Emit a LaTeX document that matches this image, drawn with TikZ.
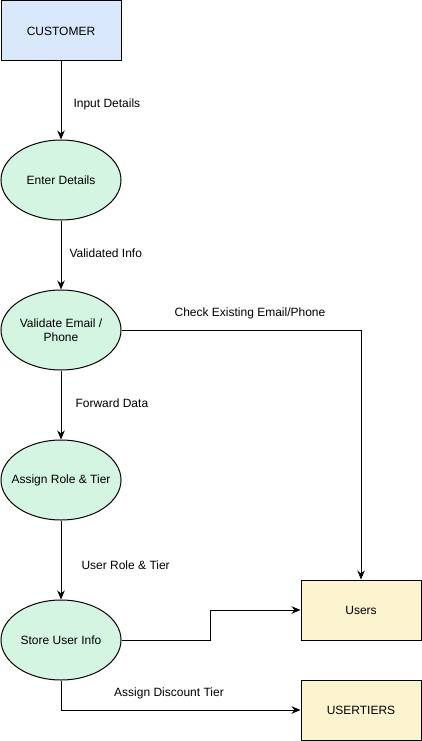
\documentclass[tikz,border=0pt]{standalone}
\usepackage{fontspec}
\setmainfont{Liberation Sans}
\usetikzlibrary{positioning,arrows.meta,shapes.geometric}

\definecolor{custblue}{RGB}{218,232,252}
\definecolor{procgreen}{RGB}{213,245,227}
\definecolor{storeyellow}{RGB}{252,243,207}

\begin{document}
\begin{tikzpicture}[x=1pt,y=-1pt,line width=1pt,
  font=\fontsize{12}{14}\selectfont,
  entity/.style={draw,fill=custblue,minimum width=120pt,minimum height=60pt,inner sep=0pt},
  process/.style={draw,ellipse,fill=procgreen,minimum width=120pt,minimum height=80pt,inner xsep=-14pt,inner ysep=0pt,align=center},
  datastore/.style={draw,fill=storeyellow,minimum width=120pt,minimum height=60pt,inner sep=0pt},
  flow/.style={-{Stealth[length=9pt,width=7.5pt]}},
  lbl/.style={inner sep=0pt}]
  \useasboundingbox (0,0) rectangle (421,741);
  \node[entity] (customer) at (61,31) {CUSTOMER};
  \node[process] (enter) at (61,180) {Enter Details};
  \node[process] (validate) at (61,330) {Validate Email /\\ Phone};
  \node[process] (assign) at (61,480) {Assign Role \& Tier};
  \node[process] (store) at (61,640) {Store User Info};
  \node[datastore] (users) at (361,610) {Users};
  \node[datastore] (usertiers) at (361,710) {USERTIERS};
  % flow labels
  \node[lbl,anchor=west] (inputlbl) at (73,104) {Input Details};
  \node[lbl,anchor=west] (validlbl) at (69,253) {Validated Info};
  \node[lbl] (checklbl) at (250,313) {Check Existing Email/Phone};
  \node[lbl,anchor=west] (fwdlbl) at (75,403) {Forward Data};
  \node[lbl,anchor=west] (rolelbl) at (81,565) {User Role \& Tier};
  \node[lbl] (discountlbl) at (169,693) {Assign Discount Tier};
  % flows
  \draw[flow] (customer) -- (enter);
  \draw[flow] (enter) -- (validate);
  \draw[flow] (validate) -- (assign);
  \draw[flow] (assign) -- (store);
  \draw[flow] (validate.east) -| (users.north);
  \draw[flow] (store.east) -- ++(89,0) |- (users.west);
  \draw[flow] (store.south) |- (usertiers.west);
\end{tikzpicture}
\end{document}
